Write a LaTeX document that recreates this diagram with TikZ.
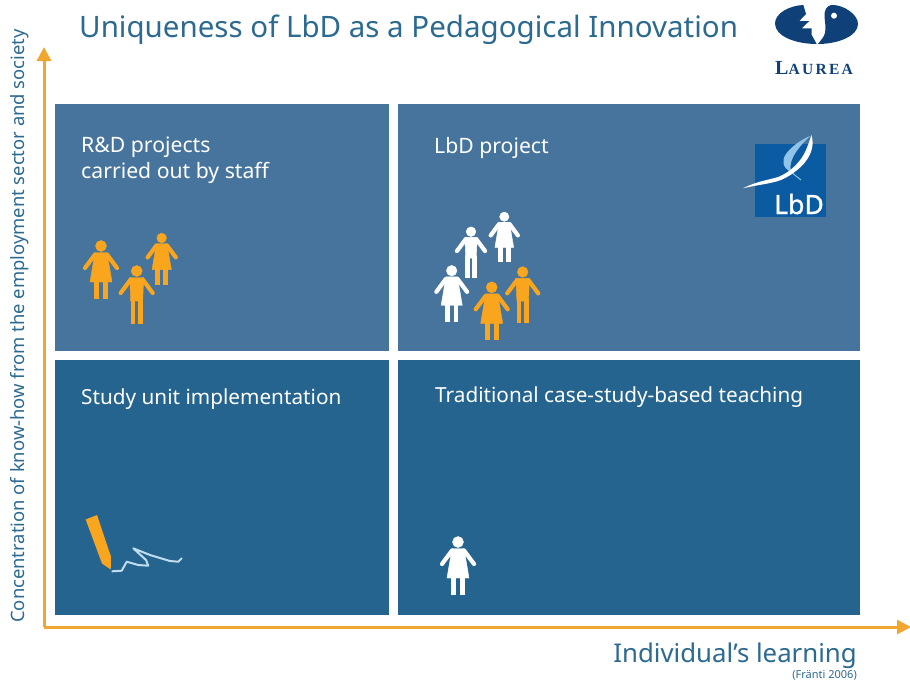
\documentclass[tikz,border=0pt]{standalone}
\usepackage{fontspec}
\setmainfont{Noto Sans}
\newfontfamily\logofont[LetterSpace=15]{Liberation Serif}
\newfontfamily\lbdfont[FakeBold=1.2]{Noto Sans}
\definecolor{upperblue}{HTML}{47749C}
\definecolor{lowerblue}{HTML}{25648E}
\definecolor{axisorange}{HTML}{F0A62F}
\definecolor{figorange}{HTML}{F9A61E}
\definecolor{inktext}{HTML}{2C6A90}
\definecolor{lauredark}{HTML}{0F4178}
\definecolor{lbdblue}{HTML}{0B5BA3}
\definecolor{leafblue}{HTML}{8FC3E8}
\definecolor{scribble}{HTML}{BFDDEE}
\usetikzlibrary{arrows.meta}
\tikzset{
 panelupper/.style={fill=upperblue,draw=none},
 panellower/.style={fill=lowerblue,draw=none},
 paneltext/.style={text=white,anchor=base west,font=\fontsize{21.2}{25}\selectfont,align=left,inner sep=0pt},
 paneltextlow/.style={paneltext,font=\fontsize{20.75}{25}\selectfont},
 axisline/.style={draw=axisorange,line width=3pt,-{Triangle[length=14pt,width=14pt]}},
 womanfig/.pic={
  \fill[pic actions] (0,0) circle (5.5);
  \fill[pic actions] (-6,6.5) -- (6,6.5) -- (11,36) -- (-11,36) -- cycle;
  \draw[pic actions,line width=4.2pt,line cap=round,line join=round] (-6,8.5) -- (-16,22);
  \draw[pic actions,line width=4.2pt,line cap=round] (6,8.5) -- (16,22);
  \draw[pic actions,line width=4.8pt] (-4.5,34) -- (-4.5,53);
  \draw[pic actions,line width=4.8pt] (4.5,34) -- (4.5,53);
 },
 manfig/.pic={
  \fill[pic actions] (0,0) circle (5.5);
  \fill[pic actions] (-7,6.5) -- (7,6.5) -- (6,30) -- (-6,30) -- cycle;
  \draw[pic actions,line width=4.2pt,line cap=round,line join=round] (-6,8.5) -- (-16,22);
  \draw[pic actions,line width=4.2pt,line cap=round] (6,8.5) -- (16,22);
  \draw[pic actions,line width=4.6pt] (-3.8,28) -- (-3.8,53);
  \draw[pic actions,line width=4.6pt] (3.8,28) -- (3.8,53);
 },
}
\begin{document}
\begin{tikzpicture}[x=1pt,y=-1pt]
\useasboundingbox (0,0) rectangle (910,681);
\fill[white] (0,0) rectangle (910,681);
% panels
\fill[panelupper] (55,104) rectangle (389,351);
\fill[panelupper] (398,104) rectangle (860,351);
\fill[panellower] (55,360) rectangle (389,615);
\fill[panellower] (398,360) rectangle (860,615);
% axes
\coordinate (origin) at (44,627);
\coordinate (ytip) at (44,47);
\coordinate (xtip) at (911,627);
\draw[axisline] (origin) -- (ytip);
\draw[axisline] (origin) -- (xtip);
% texts
\node[text=inktext,anchor=base west,inner sep=0pt,font=\fontsize{29.5}{34}\selectfont] (title) at (79,37) {Uniqueness of LbD as a Pedagogical Innovation};
\node[text=inktext,rotate=90,anchor=base,inner sep=0pt,font=\fontsize{18.4}{20}\selectfont] (ylabel) at (24,326) {Concentration of know-how from the employment sector and society};
\node[text=inktext,anchor=base east,inner sep=0pt,font=\fontsize{25.8}{28}\selectfont] (xlabel) at (857,662) {Individual’s learning};
\node[text=inktext,anchor=base east,inner sep=0pt,font=\fontsize{11}{12}\selectfont] (source) at (857,678) {(Fränti 2006)};
\node[paneltext] (t1) at (81,178.5) {R\&D projects\\[1pt]carried out by staff};
\node[paneltext] (t2) at (434,153) {LbD project};
\node[paneltextlow] (t3) at (81,404) {Study unit implementation};
\node[paneltextlow] (t4) at (435,402) {Traditional case-study-based teaching};
% people
\pic[figorange,fill=figorange,draw=figorange] at (101,246) {womanfig};
\pic[figorange,fill=figorange,draw=figorange,scale=.88] at (161.7,238) {womanfig};
\pic[figorange,fill=figorange,draw=figorange] at (136.7,271) {manfig};
\pic[white,fill=white,draw=white,scale=.85] at (504.3,216.7) {womanfig};
\pic[white,fill=white,draw=white,scale=.88] at (471,231.7) {manfig};
\pic[white,fill=white,draw=white,scale=.96] at (451.7,270.7) {womanfig};
\pic[figorange,fill=figorange,draw=figorange] at (491.7,287.3) {womanfig};
\pic[figorange,fill=figorange,draw=figorange,scale=.97] at (522.7,272) {manfig};
\pic[white,fill=white,draw=white] at (458,542) {womanfig};
% pen and scribble
\draw[scribble,line width=2pt,line cap=round,line join=round] (112.3,571.3) -- (121.7,570.7) -- (126.7,561.7) -- (138.3,565) -- (148.3,565.7) -- (146,560) -- (133.3,548.3) -- (150,555) -- (170,561) -- (178.3,561.7) -- (181.7,558.3);
\fill[figorange] (85.7,519.5) -- (97,515) -- (111,556.7) -- (110.7,569.5) -- (102,563.5) -- cycle;
% LbD logo
\fill[lbdblue] (755,144.3) rectangle (826,217.3);
\fill[leafblue] (810,136) .. controls (800,140) and (790,148) .. (786,154) .. controls (781,161) and (783,168) .. (791,172) .. controls (789,165) and (792,158) .. (796,152) .. controls (800,146) and (805,141) .. (810,136) -- cycle;
\draw[leafblue,line width=1pt] (791,172) -- (801,180);
\fill[white] (743,188.3) .. controls (757,181) and (769,180) .. (779,176.7) .. controls (790,172) and (801,162) .. (806,150) .. controls (808,145) and (810,140) .. (811.3,135) .. controls (815,145) and (811,157) .. (801,166.7) .. controls (794,173) and (788,177) .. (781,180) .. controls (770,184) and (756,185) .. (743,188.3) -- cycle;
\node[text=white,anchor=base,inner sep=0pt,font=\lbdfont\fontsize{26.5}{28}\selectfont] (lbd) at (799,214) {LbD};
% Laurea logo
\fill[lauredark] (816.7,44) .. controls (795,44) and (775,36) .. (775,23.5) .. controls (775,13) and (790,5.5) .. (803.3,5) -- (806,14) -- (799.3,21) -- (809.3,21) -- (801.7,28.3) -- (811.7,28.3) -- (811.7,35) -- cycle;
\fill[lauredark] (818,44) .. controls (838,44) and (858,36) .. (858,24) .. controls (858,14) and (843,5) .. (833,5) .. controls (826,5) and (824,11) .. (824.5,17) .. controls (825,22) and (826,28) .. (825,33) .. controls (824,37) and (821,40) .. (818,44) -- cycle;
\fill[white] (834,15.7) circle (3);
\node[text=lauredark,anchor=base west,inner sep=0pt,font=\logofont\bfseries] (laurea) at (775,74) {\fontsize{20}{20}\selectfont L\fontsize{15.5}{20}\selectfont AUREA};
\end{tikzpicture}
\end{document}
